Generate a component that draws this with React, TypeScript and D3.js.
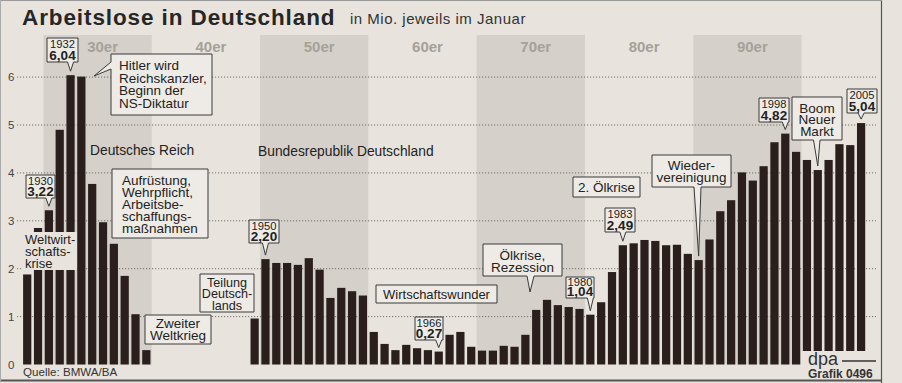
import React from "react";
import * as d3 from "d3";

// ---------- DATA ----------
const years: number[] = d3.range(1928, 2006);
const unemployed: (number | null)[] = [
  1.88, 2.85, 3.22, 4.9, 6.04, 6.01, 3.77, 2.97, 2.52, 1.85, 1.05, 0.3, // 1928-1939
  null, null, null, null, null, null, null, null, null, // 1940-1948
  0.96, // 1949
  2.2, 2.12, 2.12, 2.08, 2.22, 1.98, 1.39, 1.6, 1.53, 1.44, // 1950-1959
  0.68, 0.43, 0.3, 0.41, 0.34, 0.3, 0.27, 0.62, 0.68, 0.37, // 1960-1969
  0.29, 0.29, 0.39, 0.37, 0.62, 1.14, 1.35, 1.24, 1.2, 1.16, // 1970-1979
  1.04, 1.3, 1.93, 2.49, 2.53, 2.6, 2.58, 2.49, 2.5, 2.31, // 1980-1989
  2.18, 2.61, 3.2, 3.43, 4.01, 3.84, 4.14, 4.64, 4.82, 4.44, // 1990-1999
  4.27, 4.06, 4.27, 4.6, 4.58, 5.04, // 2000-2005
];
const decadeStarts: number[] = [1930, 1940, 1950, 1960, 1970, 1980, 1990];
const decadeLabels: string[] = ["30er", "40er", "50er", "60er", "70er", "80er", "90er"];
const shadedDecades: number[] = [1930, 1950, 1970, 1990];
const yTicks: number[] = [0, 1, 2, 3, 4, 5, 6];
const highlightYears: number[] = [1930, 1932, 1950, 1966, 1980, 1983, 1998, 2005];

const titleText = "Arbeitslose in Deutschland";
const subtitleText = "in Mio. jeweils im Januar";
const sourceText = "Quelle: BMWA/BA";

// ---------- LAYOUT ----------
const W = 902;
const H = 383;
const FONT = "'Liberation Sans', Arial, Helvetica, sans-serif";
const PAPER = "#e8e4dd";
const BAND = "#d5d1ca";
const BOXFILL = "#eeebe6";
const BAR = "#2a1f1c";
const INK = "#222";

const x = d3
  .scaleBand<number>()
  .domain(years)
  .range([21.8, 866.5])
  .paddingInner(0.24)
  .paddingOuter(0.12);
const y = d3.scaleLinear().domain([0, 6]).range([364.5, 77.1]);

const valueOf = (yr: number) => unemployed[years.indexOf(yr)] as number;
const cx = (yr: number) => (x(yr) as number) + x.bandwidth() / 2;
const fmt = (v: number) => d3.format(".2f")(v).replace(".", ",");

// Year/value call-out boxes (layout only)
const yearBoxLayout: Record<number, { bx: number; by: number; w: number; h: number }> = {
  1930: { bx: 26, by: 175, w: 29, h: 23 },
  1932: { bx: 47, by: 38, w: 31, h: 24 },
  1950: { bx: 249, by: 220, w: 30, h: 23 },
  1966: { bx: 415, by: 317, w: 28, h: 23 },
  1980: { bx: 566, by: 277, w: 28, h: 21 },
  1983: { bx: 605, by: 208, w: 30, h: 24 },
  1998: { bx: 759, by: 98, w: 30, h: 24 },
  2005: { bx: 847, by: 89, w: 30, h: 24 },
};

type Tail = { side: "bottom" | "left"; a: number; b: number; tx: number; ty: number } | null;

function calloutPath(bx: number, by: number, w: number, h: number, tail: Tail) {
  const p = d3.path();
  p.moveTo(bx, by);
  p.lineTo(bx + w, by);
  p.lineTo(bx + w, by + h);
  if (tail && tail.side === "bottom") {
    p.lineTo(tail.b, by + h);
    p.lineTo(tail.tx, tail.ty);
    p.lineTo(tail.a, by + h);
  }
  p.lineTo(bx, by + h);
  if (tail && tail.side === "left") {
    p.lineTo(bx, tail.b);
    p.lineTo(tail.tx, tail.ty);
    p.lineTo(bx, tail.a);
  }
  p.closePath();
  return p.toString();
}

type TextBox = {
  bx: number;
  by: number;
  w: number;
  h: number;
  lines: string[];
  tx: number;
  anchor: "start" | "middle";
  base: number;
  lh: number;
  size: number;
  tail: Tail;
  border: boolean;
};

const textBoxes: TextBox[] = [
  {
    bx: 111, by: 54, w: 101, h: 61,
    lines: ["Hitler wird", "Reichskanzler,", "Beginn der", "NS-Diktatur"],
    tx: 119, anchor: "start", base: 70, lh: 12.5, size: 13.5,
    tail: { side: "left", a: 62, b: 69, tx: 94, ty: 76 }, border: true,
  },
  {
    bx: 112, by: 169, w: 96, h: 69,
    lines: ["Aufrüstung,", "Wehrpflicht,", "Arbeitsbe-", "schaffungs-", "maßnahmen"],
    tx: 122, anchor: "start", base: 185, lh: 12, size: 13.5, tail: null, border: true,
  },
  {
    bx: 22, by: 232, w: 55, h: 38,
    lines: ["Weltwirt-", "schafts-", "krise"],
    tx: 25, anchor: "start", base: 243.5, lh: 12.3, size: 13, tail: null, border: false,
  },
  {
    bx: 200, by: 274, w: 54, h: 38,
    lines: ["Teilung", "Deutsch-", "lands"],
    tx: 227, anchor: "middle", base: 286.5, lh: 11.6, size: 12.6, tail: null, border: true,
  },
  {
    bx: 145, by: 315, w: 66, h: 29,
    lines: ["Zweiter", "Weltkrieg"],
    tx: 178, anchor: "middle", base: 328, lh: 12.3, size: 13.5, tail: null, border: true,
  },
  {
    bx: 376, by: 285, w: 121, h: 18,
    lines: ["Wirtschaftswunder"],
    tx: 436.5, anchor: "middle", base: 298.5, lh: 12, size: 13, tail: null, border: true,
  },
  {
    bx: 483, by: 244, w: 79, h: 32,
    lines: ["Ölkrise,", "Rezession"],
    tx: 522.5, anchor: "middle", base: 260, lh: 12, size: 13.5,
    tail: { side: "bottom", a: 527, b: 534, tx: 530, ty: 292 }, border: true,
  },
  {
    bx: 573, by: 177, w: 67, h: 20,
    lines: ["2. Ölkrise"],
    tx: 606.5, anchor: "middle", base: 192, lh: 12, size: 13.5, tail: null, border: true,
  },
  {
    bx: 652, by: 155, w: 79, h: 32,
    lines: ["Wieder-", "vereinigung"],
    tx: 691.5, anchor: "middle", base: 170, lh: 12, size: 13.5,
    tail: { side: "bottom", a: 694, b: 701, tx: cx(1990), ty: y(valueOf(1990)) - 4 }, border: true,
  },
  {
    bx: 792, by: 97, w: 50, h: 43,
    lines: ["Boom", "Neuer", "Markt"],
    tx: 817, anchor: "middle", base: 112.5, lh: 11.8, size: 13.5,
    tail: { side: "bottom", a: 813.5, b: 820, tx: cx(2001), ty: y(valueOf(2001)) - 4 }, border: true,
  },
];

export default function App() {
  const step = x.step();
  const gapHalf = (step - x.bandwidth()) / 2;
  const baseY = y(0);

  return (
    <svg
      width={W}
      height={H}
      viewBox={`0 0 ${W} ${H}`}
      style={{ position: "absolute", left: 0, top: 0, fontFamily: FONT }}
    >
      <rect x={0} y={0} width={W} height={H} fill={PAPER} />

      {/* decade bands */}
      {shadedDecades.map((d) => (
        <rect
          key={"band" + d}
          x={(x(d) as number) - gapHalf}
          y={35}
          width={step * 10}
          height={baseY - 35}
          fill={BAND}
        />
      ))}

      {/* decade labels */}
      {decadeStarts.map((d, i) => (
        <text
          key={"dl" + d}
          x={(x(d) as number) - gapHalf + step * 5 + 5}
          y={52}
          textAnchor="middle"
          fontSize={15}
          fontWeight="bold"
          fill="#a5a19a"
        >
          {decadeLabels[i]}
        </text>
      ))}

      {/* grid lines */}
      {yTicks
        .filter((t) => t > 0)
        .map((t) => (
          <line
            key={"g" + t}
            x1={17}
            x2={876}
            y1={y(t)}
            y2={y(t)}
            stroke="#666"
            strokeWidth={0.9}
            strokeDasharray="1.2 1.8"
          />
        ))}
      {yTicks.map((t) => (
        <text key={"yt" + t} x={8} y={y(t) + 4} fontSize={11.5} fill="#444">
          {t}
        </text>
      ))}

      {/* bars */}
      {years.map((yr, i) => {
        const v = unemployed[i];
        if (v == null) return null;
        return (
          <rect
            key={"b" + yr}
            x={x(yr)}
            y={y(v)}
            width={x.bandwidth()}
            height={baseY - y(v)}
            fill={BAR}
          />
        );
      })}

      {/* section titles */}
      <text x={90} y={154.5} fontSize={13.8} fill={INK}>
        Deutsches Reich
      </text>
      <text x={258} y={155.5} fontSize={13.8} fill={INK}>
        Bundesrepublik Deutschland
      </text>

      {/* text call-outs */}
      {textBoxes.map((b, i) => (
        <g key={"tb" + i}>
          <path
            d={calloutPath(b.bx, b.by, b.w, b.h, b.tail)}
            fill={b.border ? BOXFILL : PAPER}
            stroke={b.border ? "#3a3a3a" : "none"}
            strokeWidth={1}
            strokeLinejoin="miter"
          />
          {b.lines.map((ln, j) => (
            <text
              key={j}
              x={b.tx}
              y={b.base + j * b.lh}
              textAnchor={b.anchor}
              fontSize={b.size}
              fill={INK}
            >
              {ln}
            </text>
          ))}
        </g>
      ))}

      {/* year/value call-outs */}
      {highlightYears.map((yr) => {
        const L = yearBoxLayout[yr];
        const v = valueOf(yr);
        const tx = cx(yr);
        const ty = y(v) - 4;
        const tail: Tail = { side: "bottom", a: tx - 3, b: tx + 3, tx, ty };
        const mid = L.bx + L.w / 2;
        return (
          <g key={"yb" + yr}>
            <path
              d={calloutPath(L.bx, L.by, L.w, L.h, tail)}
              fill={BOXFILL}
              stroke="#3a3a3a"
              strokeWidth={1}
            />
            <text x={mid} y={L.by + (L.h < 23 ? 8.8 : 10)} textAnchor="middle" fontSize={11.2} fill={INK}>
              {yr}
            </text>
            <text
              x={mid}
              y={L.by + L.h - 2}
              textAnchor="middle"
              fontSize={13.5}
              fontWeight="bold"
              fill={INK}
            >
              {fmt(v)}
            </text>
          </g>
        );
      })}

      {/* title */}
      <text x={22} y={24.5} fontSize={22.5} fontWeight="bold" letterSpacing={0.9} fill="#262626">
        {titleText}
      </text>
      <text x={350} y={24} fontSize={15} letterSpacing={0.5} fill="#333">
        {subtitleText}
      </text>

      {/* source */}
      <text x={23} y={376} fontSize={11.6} fill="#333">
        {sourceText}
      </text>

      {/* dpa logo */}
      <rect x={801} y={351} width={81} height={30} fill={PAPER} />
      <text x={808} y={365} fontSize={18} fill="#333">
        dpa
      </text>
      <line x1={842} x2={876} y1={361} y2={361} stroke="#333" strokeWidth={1.5} />
      <text x={808} y={378} fontSize={12} fontWeight="bold" fill="#333">
        Grafik 0496
      </text>

      {/* frame */}
      <line x1={0} x2={882} y1={380.5} y2={380.5} stroke="#555" strokeWidth={2} />
      <line x1={881.5} x2={881.5} y1={0} y2={383} stroke="#555" strokeWidth={1.2} />
      <line x1={0} x2={882} y1={0.5} y2={0.5} stroke="#999" strokeWidth={1} />
      <line x1={0.5} x2={0.5} y1={0} y2={381} stroke="#aaa" strokeWidth={1} />
    </svg>
  );
}
